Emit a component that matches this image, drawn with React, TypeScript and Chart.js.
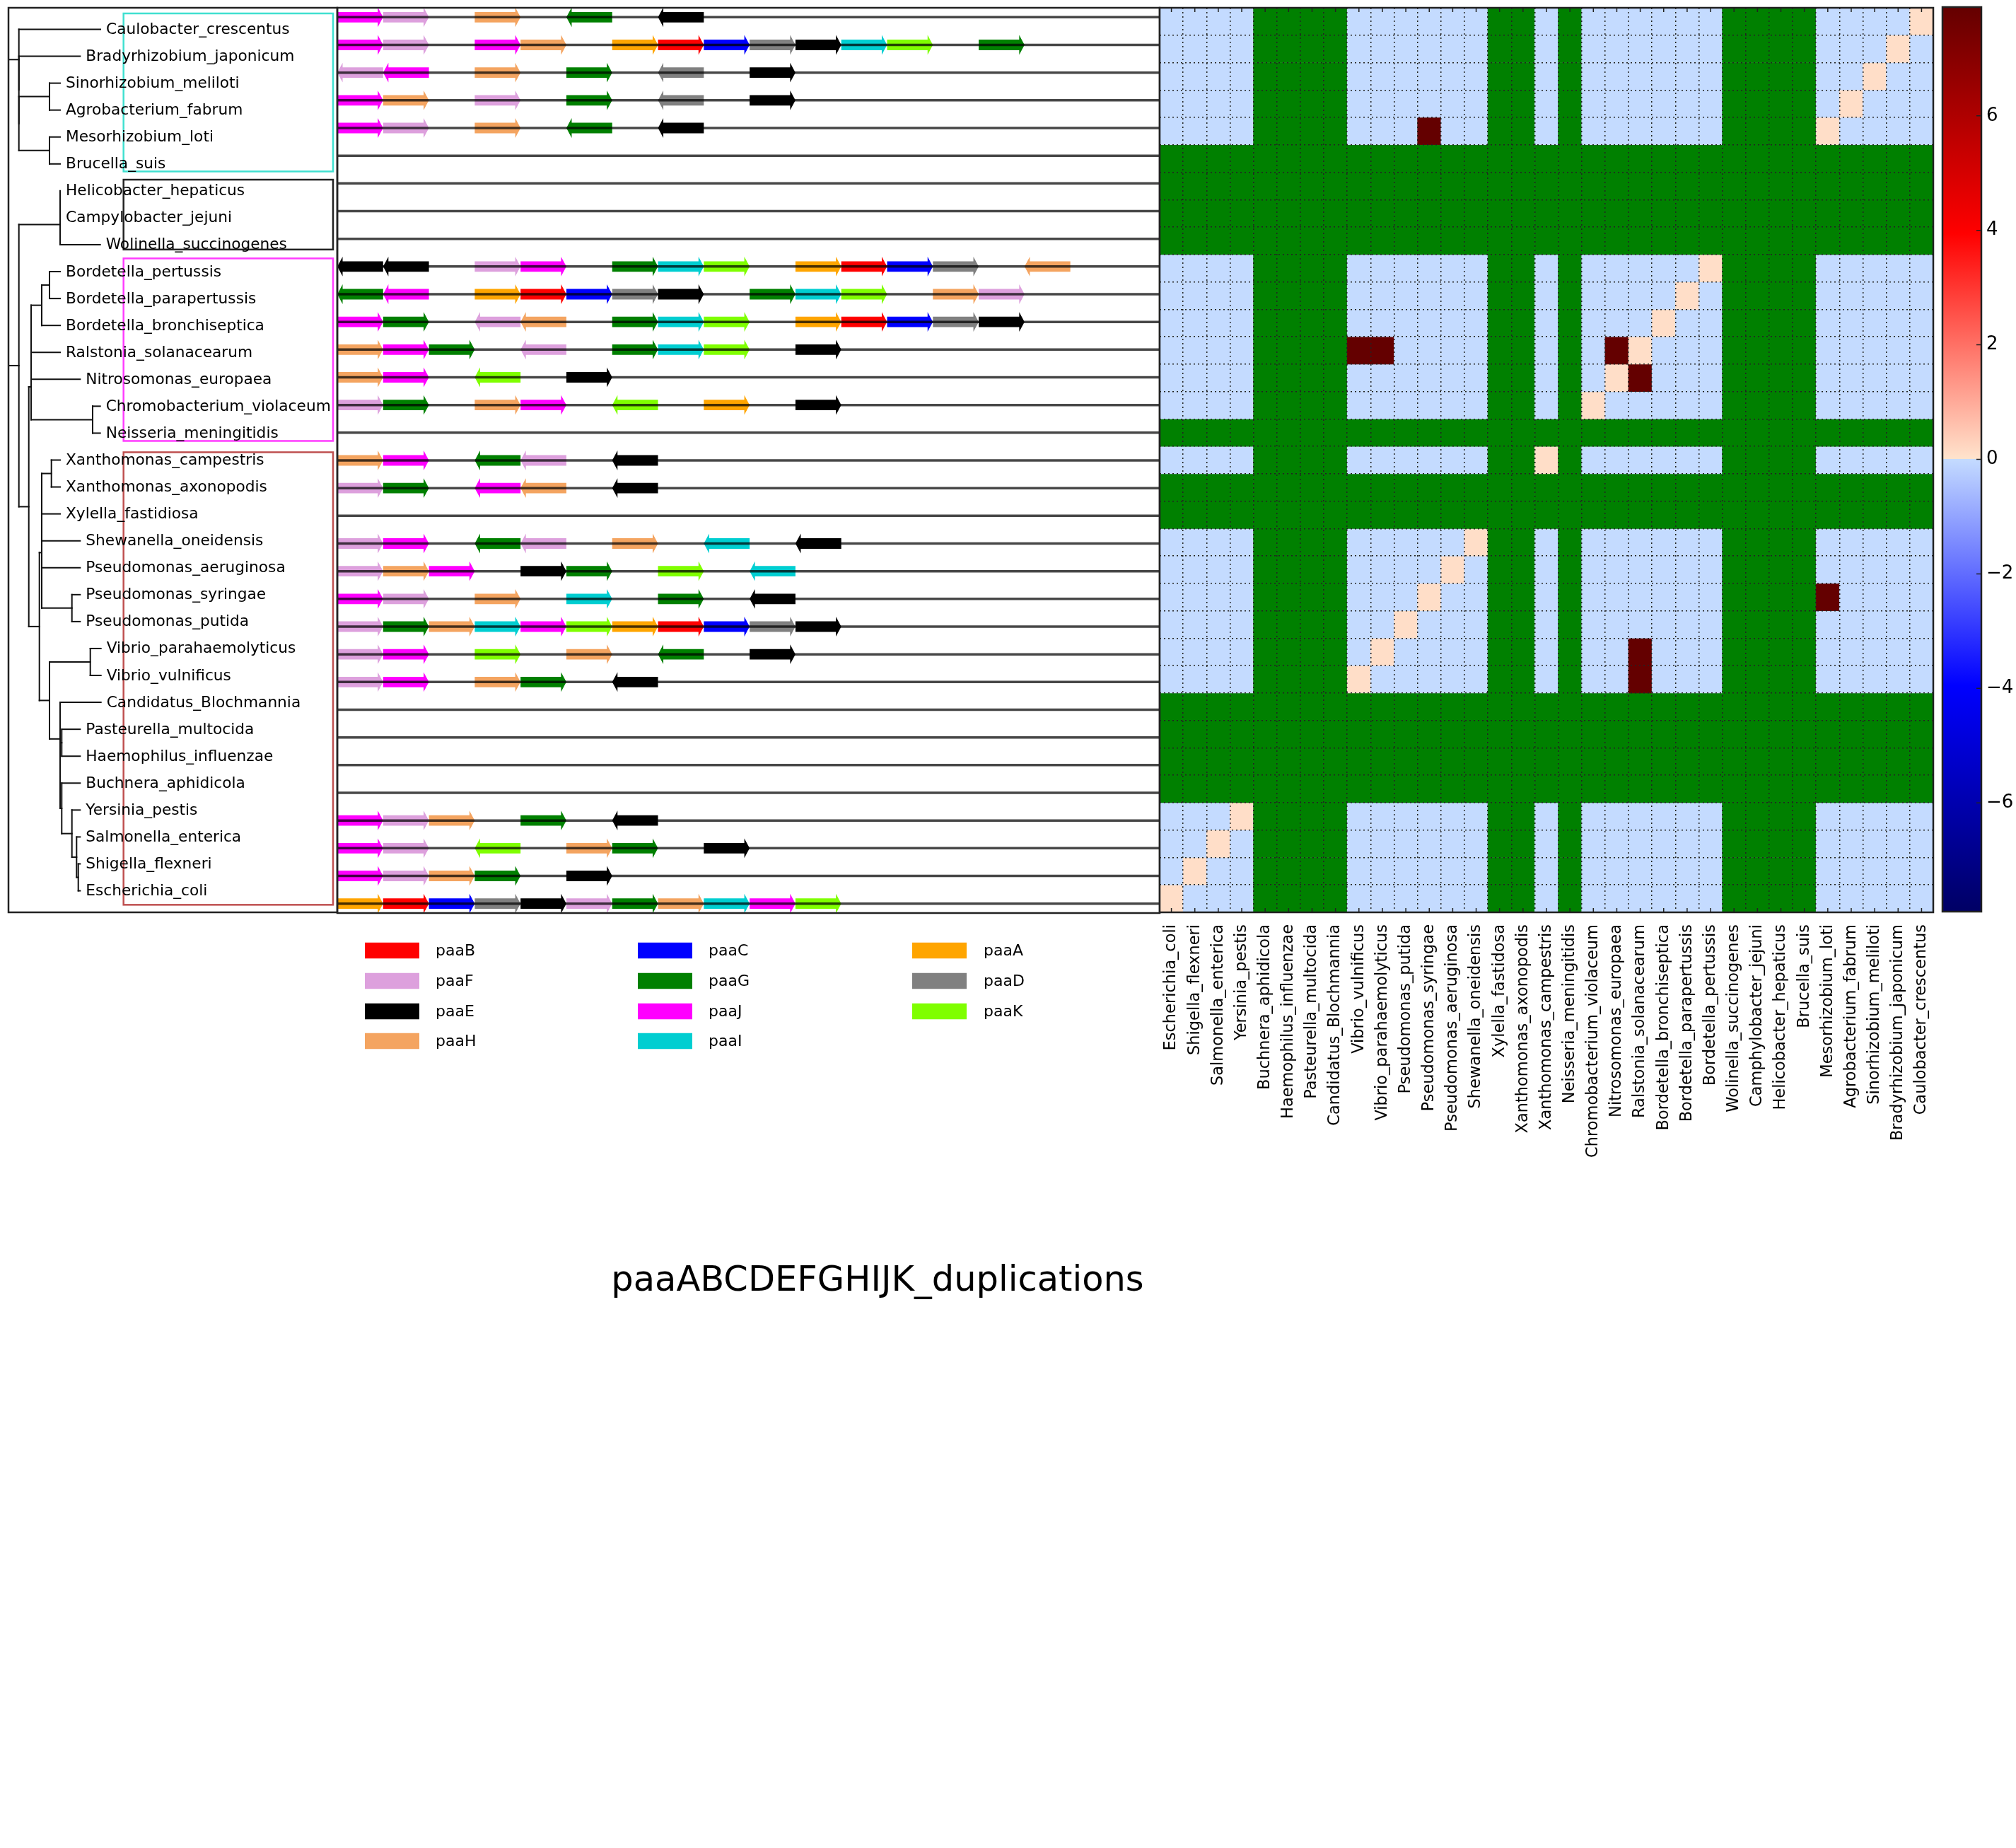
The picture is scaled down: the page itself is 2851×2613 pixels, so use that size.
import React, { useEffect, useRef } from 'react';
import { Chart, registerables } from 'chart.js';

Chart.register(...registerables);

const FONT = '"DejaVu Sans", "Liberation Sans", sans-serif';
Chart.defaults.font.family = FONT;

// ---------------- data ----------------
// species in tree (row) order, top to bottom
const SPECIES = [
  'Caulobacter_crescentus', 'Bradyrhizobium_japonicum', 'Sinorhizobium_meliloti', 'Agrobacterium_fabrum',
  'Mesorhizobium_loti', 'Brucella_suis', 'Helicobacter_hepaticus', 'Campylobacter_jejuni',
  'Wolinella_succinogenes', 'Bordetella_pertussis', 'Bordetella_parapertussis', 'Bordetella_bronchiseptica',
  'Ralstonia_solanacearum', 'Nitrosomonas_europaea', 'Chromobacterium_violaceum', 'Neisseria_meningitidis',
  'Xanthomonas_campestris', 'Xanthomonas_axonopodis', 'Xylella_fastidiosa', 'Shewanella_oneidensis',
  'Pseudomonas_aeruginosa', 'Pseudomonas_syringae', 'Pseudomonas_putida', 'Vibrio_parahaemolyticus',
  'Vibrio_vulnificus', 'Candidatus_Blochmannia', 'Pasteurella_multocida', 'Haemophilus_influenzae',
  'Buchnera_aphidicola', 'Yersinia_pestis', 'Salmonella_enterica', 'Shigella_flexneri', 'Escherichia_coli',
];

// phylogeny with branch lengths
const TREE_NEWICK =
  '((Caulobacter_crescentus:1.153,(Bradyrhizobium_japonicum:0.866,((Sinorhizobium_meliloti:0.15,Agrobacterium_fabrum:0.15):0.433,(Mesorhizobium_loti:0.15,Brucella_suis:0.15):0.433):0):0):0.147,' +
  '(((Helicobacter_hepaticus:0,Campylobacter_jejuni:0):0,Wolinella_succinogenes:0.567):0.583,' +
  '((((((Bordetella_pertussis:0.15,Bordetella_parapertussis:0.15):0.11,Bordetella_bronchiseptica:0.26):0.15,Ralstonia_solanacearum:0.41):0,Nitrosomonas_europaea:0.693):0,(Chromobacterium_violaceum:0.107,Neisseria_meningitidis:0.107):0.87):0.033,' +
  '(((((Xanthomonas_campestris:0.123,Xanthomonas_axonopodis:0.123):0.137,Xylella_fastidiosa:0.26):0,Shewanella_oneidensis:0.543):0,(Pseudomonas_aeruginosa:0.543,(Pseudomonas_syringae:0.116,Pseudomonas_putida:0.116):0.427):0):0.033,' +
  '((Vibrio_parahaemolyticus:0.15,Vibrio_vulnificus:0.15):0.577,(Candidatus_Blochmannia:0.577,((Pasteurella_multocida:0.26,Haemophilus_influenzae:0.26):0.023,(Buchnera_aphidicola:0.26,(Yersinia_pestis:0.116,(Salmonella_enterica:0.05,(Shigella_flexneri:0.026,Escherichia_coli:0.026):0.024):0.066):0.144):0.023):0):0.15):0.143' +
  '):0.15):0.14):0.147);';

// clade boxes drawn over the tree labels: colour and [first row, last row] (row units)
const CLADE_BOX_COLORS = ['#40e0d0', '#222222', '#ff3cff', '#bf5050'];
const CLADE_BOX_ROWS: [number, number][] = [[-0.59, 5.28], [5.585, 8.18], [8.51, 15.29], [15.71, 32.52]];
const CLADE_BOX_X: [number, number] = [1.627, 4.59];

// gene order per species: slot tokens, '.' = empty slot, '+' forward, '-' reverse
const OPERONS = [
  'J+ F+ . H+ . G- . E-',
  'J+ F+ . J+ H+ . A+ B+ C+ D+ E+ I+ K+ . G+',
  'F- J- . H+ . G+ . D- . E+',
  'J+ H+ . F+ . G+ . D- . E+',
  'J+ F+ . H+ . G- . E-',
  '',
  '',
  '',
  '',
  'E- E- . F+ J+ . G+ I+ K+ . A+ B+ C+ D+ . H-',
  'G- J- . A+ B+ C+ D+ E+ . G+ I+ K+ . H+ F+',
  'J+ G+ . F- H- . G+ I+ K+ . A+ B+ C+ D+ E+',
  'H+ J+ G+ . F- . G+ I+ K+ . E+',
  'H+ J+ . K- . E+',
  'F+ G+ . H+ J+ . K- . A+ . E+',
  '',
  'H+ J+ . G- F- . E-',
  'F+ G+ . J- H- . E-',
  '',
  'F+ J+ . G- F- . H+ . I- . E-',
  'F+ H+ J+ . E+ G+ . K+ . I-',
  'J+ F+ . H+ . I+ . G+ . E-',
  'F+ G+ H+ I+ J+ K+ A+ B+ C+ D+ E+',
  'F+ J+ . K+ . H+ . G- . E+',
  'F+ J+ . H+ G+ . E-',
  '',
  '',
  '',
  '',
  'J+ F+ H+ . G+ . E-',
  'J+ F+ . K- . H+ G+ . E+',
  'J+ F+ H+ G+ . E+',
  'A+ B+ C+ D+ E+ F+ G+ H+ I+ J+ K+',
];

const GENE_COLORS: Record<string, string> = {
  paaA: '#ffa500', paaB: '#ff0000', paaC: '#0000ff', paaD: '#808080', paaE: '#000000', paaF: '#dda0dd',
  paaG: '#008000', paaH: '#f4a460', paaI: '#00ced1', paaJ: '#ff00ff', paaK: '#7fff00',
};
const LEGEND_GENES = ['paaB', 'paaF', 'paaE', 'paaH', 'paaC', 'paaG', 'paaJ', 'paaI', 'paaA', 'paaD', 'paaK'];

// heatmap columns (left to right)
const HEAT_COLUMN_LABELS = [
  'Escherichia_coli', 'Shigella_flexneri', 'Salmonella_enterica', 'Yersinia_pestis', 'Buchnera_aphidicola',
  'Haemophilus_influenzae', 'Pasteurella_multocida', 'Candidatus_Blochmannia', 'Vibrio_vulnificus',
  'Vibrio_parahaemolyticus', 'Pseudomonas_putida', 'Pseudomonas_syringae', 'Pseudomonas_aeruginosa',
  'Shewanella_oneidensis', 'Xylella_fastidosa', 'Xanthomonas_axonopodis', 'Xanthomonas_campestris',
  'Neisseria_meningitidis', 'Chromobacterium_violaceum', 'Nitrosomonas_europaea', 'Ralstonia_solanacearum',
  'Bordetella_bronchiseptica', 'Bordetella_parapertussis', 'Bordetella_pertussis', 'Wolinella_succinogenes',
  'Camphylobacter_jejuni', 'Helicobacter_hepaticus', 'Brucella_suis', 'Mesorhizobium_loti',
  'Agrobacterium_fabrum', 'Sinorhizobium_meliloti', 'Bradyrhizobium_japonicum', 'Caulobacter_crescentus',
];
const HEAT_COLUMN_SPECIES = [...SPECIES].reverse();

const NO_DATA_SPECIES = [
  'Brucella_suis', 'Helicobacter_hepaticus', 'Campylobacter_jejuni', 'Wolinella_succinogenes',
  'Neisseria_meningitidis', 'Xanthomonas_axonopodis', 'Xylella_fastidiosa', 'Candidatus_Blochmannia',
  'Pasteurella_multocida', 'Haemophilus_influenzae', 'Buchnera_aphidicola',
];
const SELF_SCORE = 0.1;
const BASE_SCORE = 0;
const DUPLICATION_PAIRS: [string, string, number][] = [
  ['Mesorhizobium_loti', 'Pseudomonas_syringae', 7.9],
  ['Ralstonia_solanacearum', 'Vibrio_vulnificus', 7.9],
  ['Ralstonia_solanacearum', 'Vibrio_parahaemolyticus', 7.9],
  ['Ralstonia_solanacearum', 'Nitrosomonas_europaea', 7.9],
];
const VMAX = 7.9;
const COLORBAR_TICKS = [-6, -4, -2, 0, 2, 4, 6];
const NEG_STOPS: [number, number[]][] = [[0, [0, 0, 100]], [0.5, [0, 0, 255]], [1, [196, 219, 255]]];
const POS_STOPS: [number, number[]][] = [[0, [255, 228, 205]], [0.5, [255, 0, 0]], [1, [100, 0, 0]]];
const NAN_COLOR = '#008000';
const TITLE = 'paaABCDEFGHIJK_duplications';

// ---------------- layout constants ----------------
const TREE_X_MAX = 4.65;
const GENE_X_MAX = 17.95;
const GENE_CANVAS_LEFT = 470;
const HEAD_LEN = 0.116;
const SHAFT_HALF = 0.19;
const HEAD_HALF = 0.355;
const FRAME = '#222222';

// ---------------- helpers ----------------
type TNode = { name: string; len: number; children: TNode[]; x: number; y: number };

function parseNewick(s: string): TNode {
  let i = 0;
  const parse = (): TNode => {
    const node: TNode = { name: '', len: 0, children: [], x: 0, y: 0 };
    if (s[i] === '(') {
      i++;
      node.children.push(parse());
      while (s[i] === ',') { i++; node.children.push(parse()); }
      i++;
    }
    let name = '';
    while (i < s.length && !',():;'.includes(s[i])) name += s[i++];
    node.name = name;
    if (s[i] === ':') {
      i++;
      let num = '';
      while (i < s.length && !',();'.includes(s[i])) num += s[i++];
      node.len = parseFloat(num);
    }
    return node;
  };
  return parse();
}

function layoutTree(root: TNode) {
  let leafIdx = 0;
  const walk = (n: TNode, px: number) => {
    n.x = px + n.len;
    if (n.children.length === 0) { n.y = leafIdx++; return; }
    n.children.forEach((c) => walk(c, n.x));
    n.y = (n.children[0].y + n.children[n.children.length - 1].y) / 2;
  };
  walk(root, 0);
}

function collect(root: TNode) {
  const segs: number[][] = [];
  const leaves: TNode[] = [];
  const walk = (n: TNode, parentX: number | null) => {
    if (parentX !== null && n.x !== parentX) segs.push([parentX, n.y, n.x, n.y]);
    if (n.children.length) {
      const a = n.children[0].y, b = n.children[n.children.length - 1].y;
      segs.push([n.x, a, n.x, b]);
      n.children.forEach((c) => walk(c, n.x));
    } else leaves.push(n);
  };
  walk(root, null);
  return { segs, leaves };
}

function interp(stops: [number, number[]][], t: number) {
  t = Math.max(0, Math.min(1, t));
  for (let k = 0; k < stops.length - 1; k++) {
    const [t0, c0] = stops[k];
    const [t1, c1] = stops[k + 1];
    if (t <= t1) {
      const f = (t - t0) / (t1 - t0 || 1);
      const c = c0.map((v, j) => Math.round(v + (c1[j] - v) * f));
      return `rgb(${c[0]},${c[1]},${c[2]})`;
    }
  }
  const c = stops[stops.length - 1][1];
  return `rgb(${c[0]},${c[1]},${c[2]})`;
}

function scoreColor(v: number | null) {
  if (v === null) return NAN_COLOR;
  if (v <= 0) return interp(NEG_STOPS, 1 + v / VMAX);
  return interp(POS_STOPS, v / VMAX);
}

function score(a: string, b: string): number | null {
  if (NO_DATA_SPECIES.includes(a) || NO_DATA_SPECIES.includes(b)) return null;
  if (a === b) return SELF_SCORE;
  const p = DUPLICATION_PAIRS.find(([x, y]) => (x === a && y === b) || (x === b && y === a));
  return p ? p[2] : BASE_SCORE;
}

function frame(chart: any) {
  const { ctx, chartArea: a } = chart;
  ctx.save();
  ctx.strokeStyle = FRAME;
  ctx.lineWidth = 2.5;
  ctx.strokeRect(a.left, a.top, a.right - a.left, a.bottom - a.top);
  ctx.restore();
}

// ---------------- charts ----------------
function treeConfig(): any {
  const root = parseNewick(TREE_NEWICK);
  layoutTree(root);
  const { segs, leaves } = collect(root);
  const decor = {
    id: 'treeDecor',
    beforeDatasetsDraw(chart: any) {
      const { ctx, scales } = chart;
      ctx.save();
      ctx.lineWidth = 2.5;
      CLADE_BOX_ROWS.forEach(([r0, r1], k) => {
        const x0 = scales.x.getPixelForValue(CLADE_BOX_X[0]);
        const x1 = scales.x.getPixelForValue(CLADE_BOX_X[1]);
        const y0 = scales.y.getPixelForValue(r0);
        const y1 = scales.y.getPixelForValue(r1);
        ctx.strokeStyle = CLADE_BOX_COLORS[k];
        ctx.strokeRect(x0, y0, x1 - x0, y1 - y0);
      });
      ctx.restore();
    },
    afterDatasetsDraw(chart: any) {
      const { ctx, scales } = chart;
      ctx.save();
      ctx.fillStyle = '#000';
      ctx.font = `21.7px ${FONT}`;
      ctx.textAlign = 'left';
      ctx.textBaseline = 'alphabetic';
      leaves.forEach((l) => {
        ctx.fillText(l.name, scales.x.getPixelForValue(l.x) + 8, scales.y.getPixelForValue(l.y) + 6.5);
      });
      ctx.restore();
    },
    afterDraw(chart: any) { frame(chart); },
  };
  return {
    type: 'scatter',
    data: {
      datasets: segs.map((s) => ({
        data: [{ x: s[0], y: s[1] }, { x: s[2], y: s[3] }],
        showLine: true, borderColor: '#111', borderWidth: 2, pointRadius: 0, pointHoverRadius: 0,
        borderCapStyle: 'square',
      })),
    },
    options: {
      animation: false, responsive: false, devicePixelRatio: 1, events: [],
      layout: { padding: { left: 12, right: 3, top: 11, bottom: 10 } },
      plugins: { legend: { display: false }, tooltip: { enabled: false } },
      scales: {
        x: { type: 'linear', display: false, min: 0, max: TREE_X_MAX },
        y: { type: 'linear', display: false, min: -0.8, max: 32.8, reverse: true },
      },
    },
    plugins: [decor],
  };
}

function geneConfig(): any {
  const rows = OPERONS.map((s) => (s ? s.split(' ') : []));
  const arrows = {
    id: 'geneArrows',
    beforeDatasetsDraw(chart: any) {
      const { ctx, scales } = chart;
      const xs = scales.x, ys = scales.y;
      ctx.save();
      rows.forEach((tokens, i) => {
        tokens.forEach((tok, k) => {
          if (tok === '.') return;
          const gene = 'paa' + tok[0];
          const fwd = tok[1] === '+';
          const x0 = xs.getPixelForValue(k), x1 = xs.getPixelForValue(k + 1);
          const h = xs.getPixelForValue(k + HEAD_LEN) - x0;
          const yc = ys.getPixelForValue(i);
          const sh = ys.getPixelForValue(i + SHAFT_HALF) - yc;
          const hh = ys.getPixelForValue(i + HEAD_HALF) - yc;
          ctx.fillStyle = GENE_COLORS[gene];
          ctx.beginPath();
          if (fwd) {
            ctx.moveTo(x0, yc - sh); ctx.lineTo(x1 - h, yc - sh); ctx.lineTo(x1 - h, yc - hh);
            ctx.lineTo(x1, yc); ctx.lineTo(x1 - h, yc + hh); ctx.lineTo(x1 - h, yc + sh); ctx.lineTo(x0, yc + sh);
          } else {
            ctx.moveTo(x1, yc - sh); ctx.lineTo(x0 + h, yc - sh); ctx.lineTo(x0 + h, yc - hh);
            ctx.lineTo(x0, yc); ctx.lineTo(x0 + h, yc + hh); ctx.lineTo(x0 + h, yc + sh); ctx.lineTo(x1, yc + sh);
          }
          ctx.closePath();
          ctx.fill();
        });
      });
      ctx.restore();
    },
    afterDraw(chart: any) {
      frame(chart);
      const ctx = chart.ctx;
      const ox = -GENE_CANVAS_LEFT;
      const colX = [516, 902, 1290];
      const textX = [616, 1002, 1391];
      const rowY = [1344, 1387, 1430, 1472];
      ctx.save();
      LEGEND_GENES.forEach((g, k) => {
        const col = Math.floor(k / 4), row = k % 4;
        ctx.fillStyle = GENE_COLORS[g];
        ctx.fillRect(colX[col] + ox, rowY[row] - 11.25, 77, 22.5);
        ctx.fillStyle = '#000';
        ctx.font = `22px ${FONT}`;
        ctx.textAlign = 'left';
        ctx.textBaseline = 'middle';
        ctx.fillText(g, textX[col] + ox, rowY[row] + 1);
      });
      ctx.fillStyle = '#000';
      ctx.font = `49.5px ${FONT}`;
      ctx.textAlign = 'center';
      ctx.textBaseline = 'alphabetic';
      ctx.fillText(TITLE, 1241 + ox, 1825);
      ctx.restore();
    },
  };
  return {
    type: 'scatter',
    data: {
      datasets: SPECIES.map((sp, i) => ({
        label: sp,
        data: [{ x: 0, y: i }, { x: GENE_X_MAX, y: i }],
        showLine: true, borderColor: 'rgba(0,0,0,0.72)', borderWidth: 3.5, pointRadius: 0, pointHoverRadius: 0,
      })),
    },
    options: {
      animation: false, responsive: false, devicePixelRatio: 1, events: [],
      layout: { padding: { left: 7, right: 10, top: 11, bottom: 569 } },
      plugins: { legend: { display: false }, tooltip: { enabled: false } },
      scales: {
        x: { type: 'linear', display: false, min: 0, max: GENE_X_MAX },
        y: { type: 'linear', display: false, min: -0.34, max: 32.34, reverse: true },
      },
    },
    plugins: [arrows],
  };
}

function heatConfig(): any {
  const deco = {
    id: 'heatDeco',
    afterDraw(chart: any) {
      frame(chart);
      const { ctx, chartArea: a, scales } = chart;
      ctx.save();
      ctx.strokeStyle = FRAME;
      ctx.lineWidth = 1.5;
      ctx.beginPath();
      HEAT_COLUMN_LABELS.forEach((_, j) => {
        const x = scales.x.getPixelForTick(j);
        ctx.moveTo(x, a.top); ctx.lineTo(x, a.top + 6);
        ctx.moveTo(x, a.bottom); ctx.lineTo(x, a.bottom - 6);
      });
      ctx.stroke();
      ctx.restore();
    },
  };
  return {
    type: 'bar',
    data: {
      labels: HEAT_COLUMN_LABELS,
      datasets: SPECIES.map((rowSp, i) => ({
        label: rowSp,
        data: HEAT_COLUMN_SPECIES.map(() => [i, i + 1]),
        backgroundColor: HEAT_COLUMN_SPECIES.map((colSp) => scoreColor(score(rowSp, colSp))),
        borderWidth: 0,
        barPercentage: 1,
        categoryPercentage: 1,
        grouped: false,
      })),
    },
    options: {
      animation: false, responsive: false, devicePixelRatio: 1, events: [],
      layout: { padding: { left: 3, right: 3, top: 11, bottom: 0 } },
      plugins: { legend: { display: false }, tooltip: { enabled: false } },
      scales: {
        x: {
          type: 'category', offset: true, position: 'bottom',
          grid: { offset: true, drawTicks: false, color: '#222', lineWidth: 1.5, z: 1 },
          border: { display: false, dash: [2, 4] },
          ticks: {
            autoSkip: false, minRotation: 90, maxRotation: 90, padding: 17, color: '#000',
            font: { family: FONT, size: 22.5 },
          },
          afterFit: (s: any) => { s.height = 410; s.paddingLeft = 0; s.paddingRight = 0; },
        },
        y: {
          type: 'linear', min: 0, max: 33, reverse: true,
          ticks: { display: false, stepSize: 1 },
          grid: { drawTicks: false, color: '#222', lineWidth: 1.5, z: 1 },
          border: { display: false, dash: [2, 4] },
          afterFit: (s: any) => { s.width = 0; s.paddingTop = 0; s.paddingBottom = 0; },
        },
      },
    },
    plugins: [deco],
  };
}

function colorbarConfig(): any {
  const deco = {
    id: 'cbDeco',
    afterDraw(chart: any) {
      frame(chart);
      const { ctx, chartArea: a, scales } = chart;
      ctx.save();
      ctx.strokeStyle = FRAME;
      ctx.lineWidth = 1.5;
      ctx.beginPath();
      COLORBAR_TICKS.forEach((v) => {
        const y = scales.y.getPixelForValue(v);
        ctx.moveTo(a.right, y); ctx.lineTo(a.right - 7, y);
      });
      ctx.stroke();
      ctx.restore();
    },
  };
  return {
    type: 'bar',
    data: {
      labels: [''],
      datasets: [{
        data: [[-VMAX, VMAX]],
        borderWidth: 0, barPercentage: 1, categoryPercentage: 1,
        backgroundColor: (c: any) => {
          const { ctx, chartArea, scales } = c.chart;
          if (!chartArea) return '#fff';
          const y0 = scales.y.getPixelForValue(-VMAX);
          const y1 = scales.y.getPixelForValue(VMAX);
          const g = ctx.createLinearGradient(0, y0, 0, y1);
          NEG_STOPS.forEach(([t, col]) => g.addColorStop(t * 0.5, `rgb(${col[0]},${col[1]},${col[2]})`));
          POS_STOPS.forEach(([t, col]) => g.addColorStop(0.5 + t * 0.5, `rgb(${col[0]},${col[1]},${col[2]})`));
          return g;
        },
      }],
    },
    options: {
      animation: false, responsive: false, devicePixelRatio: 1, events: [],
      layout: { padding: { left: 3, right: 0, top: 10, bottom: 4 } },
      plugins: { legend: { display: false }, tooltip: { enabled: false } },
      scales: {
        x: { display: false },
        y: {
          position: 'right', min: -VMAX, max: VMAX,
          afterBuildTicks: (s: any) => { s.ticks = COLORBAR_TICKS.map((v) => ({ value: v })); },
          ticks: {
            padding: 7, color: '#000', font: { family: FONT, size: 26 },
            callback: (v: any) => (v < 0 ? '\u2212' + Math.abs(v) : String(v)),
          },
          grid: { display: false, drawTicks: false },
          border: { display: false },
          afterFit: (s: any) => { s.width = 48; s.paddingTop = 0; s.paddingBottom = 0; },
        },
      },
    },
    plugins: [deco],
  };
}

export default function App() {
  const treeRef = useRef<HTMLCanvasElement>(null);
  const geneRef = useRef<HTMLCanvasElement>(null);
  const heatRef = useRef<HTMLCanvasElement>(null);
  const cbRef = useRef<HTMLCanvasElement>(null);

  useEffect(() => {
    const charts = [
      new Chart(treeRef.current as HTMLCanvasElement, treeConfig()),
      new Chart(geneRef.current as HTMLCanvasElement, geneConfig()),
      new Chart(heatRef.current as HTMLCanvasElement, heatConfig()),
      new Chart(cbRef.current as HTMLCanvasElement, colorbarConfig()),
    ];
    return () => charts.forEach((c) => c.destroy());
  }, []);

  const abs = (left: number, top: number, w: number, h: number): React.CSSProperties => ({
    position: 'absolute', left, top, width: w, height: h,
  });

  return (
    <div style={{ position: 'absolute', left: 0, top: 0, width: 2851, height: 2613, background: '#fff', overflow: 'hidden' }}>
      <canvas ref={geneRef} width={1180} height={1860} style={abs(GENE_CANVAS_LEFT, 0, 1180, 1860)} />
      <canvas ref={treeRef} width={480} height={1300} style={abs(0, 0, 480, 1300)} />
      <canvas ref={heatRef} width={1100} height={1700} style={abs(1637, 0, 1100, 1700)} />
      <canvas ref={cbRef} width={106} height={1293} style={abs(2744, 0, 106, 1293)} />
    </div>
  );
}
